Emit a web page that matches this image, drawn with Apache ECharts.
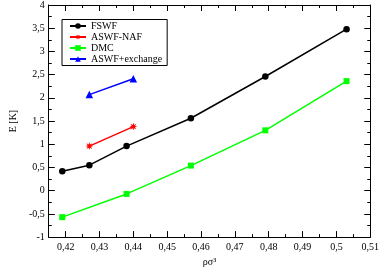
<!DOCTYPE html>
<html>
<head>
<meta charset="utf-8">
<script src="https://cdn.jsdelivr.net/npm/echarts@6/dist/echarts.min.js"></script>
<style>html,body{margin:0;padding:0;background:#fff;}#c{width:382px;height:272px;}</style>
</head>
<body>
<div id="c"></div>
<script>
// Data
var fswfX = [0.419, 0.427, 0.438, 0.457, 0.479, 0.503];
var fswfY = [0.42, 0.55, 0.96, 1.56, 2.46, 3.48];
var nafX = [0.427, 0.440];
var nafY = [0.96, 1.38];
var dmcX = [0.419, 0.438, 0.457, 0.479, 0.503];
var dmcY = [-0.57, -0.07, 0.54, 1.30, 2.36];
var exX = [0.427, 0.440];
var exY = [2.07, 2.41];
var xMajorTicks = [0.42, 0.43, 0.44, 0.45, 0.46, 0.47, 0.48, 0.49, 0.5, 0.51];
var seriesNames = ['FSWF', 'ASWF-NAF', 'DMC', 'ASWF+exchange'];

function pairs(xs, ys) { return xs.map(function (x, i) { return [x, ys[i]]; }); }
function comma(v) { return String(v).replace('.', ','); }
function isMajorX(v) { return Math.abs(v * 100 - Math.round(v * 100)) < 1e-6; }

var FONT = 'Liberation Serif';
var starPath = 'path://M20,10L14.16,11.72L17.07,17.07L11.72,14.16L10,20L8.28,14.16L2.93,17.07L5.84,11.72L0,10L5.84,8.28L2.93,2.93L8.28,5.84L10,0L11.72,5.84L17.07,2.93L14.16,8.28Z';

var axisLine = { show: true, onZero: false, lineStyle: { color: '#000', width: 1 } };
var hiddenLine = { show: false, onZero: false };
var xBase = { type: 'value', min: 0.415, max: 0.51, interval: 0.005, splitLine: { show: false } };

function xAxis(pos, major, labels) {
  var a = Object.assign({}, xBase, {
    position: pos,
    axisLine: major ? hiddenLine : axisLine,
    axisTick: major ? { show: true, inside: true, length: 6, customValues: xMajorTicks, lineStyle: { color: '#000' } }
                    : { show: true, inside: true, length: 3, lineStyle: { color: '#000' } },
    axisLabel: labels ? {
      show: true, margin: 5, fontFamily: FONT, fontSize: 10, color: '#000',
      formatter: function (v) { return isMajorX(v) ? comma(+v.toFixed(2)) : ''; }
    } : { show: false }
  });
  if (labels) {
    a.name = 'ρσ³';
    a.nameLocation = 'middle';
    a.nameGap = 19;
    a.nameTextStyle = { fontFamily: FONT, fontSize: 10, color: '#000' };
  }
  return a;
}

function yAxis(pos, labels) {
  var a = {
    type: 'value', position: pos, min: -1, max: 4, interval: 0.5,
    splitLine: { show: false },
    axisLine: axisLine,
    axisTick: { show: true, inside: true, length: 6, lineStyle: { color: '#000' } },
    minorTick: { show: true, splitNumber: 2, length: 3, lineStyle: { color: '#000' } },
    axisLabel: labels ? { show: true, margin: 4, fontFamily: FONT, fontSize: 10, color: '#000', formatter: comma } : { show: false }
  };
  if (labels) {
    a.name = 'E [K]';
    a.nameLocation = 'middle';
    a.nameGap = 17;
    a.nameTextStyle = { fontFamily: FONT, fontSize: 10, color: '#000' };
  }
  return a;
}

function line(name, xs, ys, color, symbol, size) {
  return {
    name: name, type: 'line', data: pairs(xs, ys), xAxisIndex: 0, yAxisIndex: 0,
    symbol: symbol, symbolSize: size, showSymbol: true,
    lineStyle: { color: color, width: 1.5 }, itemStyle: { color: color },
    animation: false
  };
}

var chart = echarts.init(document.getElementById('c'), null, { renderer: 'canvas' });
chart.setOption({
  animation: false,
  backgroundColor: '#fff',
  grid: { left: 30.3, right: 9, top: 4, bottom: 29, containLabel: false },
  legend: {
    orient: 'vertical', left: 62, top: 19.5,
    data: seriesNames,
    itemWidth: 16, itemHeight: 7, itemGap: 0,
    padding: [1, 5, 1, 7],
    borderColor: '#000', borderWidth: 1, borderRadius: 0,
    textStyle: { fontFamily: FONT, fontSize: 10, color: '#000', lineHeight: 11 }
  },
  xAxis: [xAxis('bottom', false, true), xAxis('bottom', true, false), xAxis('top', false, false), xAxis('top', true, false)],
  yAxis: [yAxis('left', true), yAxis('right', false)],
  series: [
    line(seriesNames[0], fswfX, fswfY, '#000000', 'circle', 6.5),
    line(seriesNames[1], nafX, nafY, '#ff0000', starPath, 8),
    line(seriesNames[2], dmcX, dmcY, '#00ff00', 'rect', 6),
    line(seriesNames[3], exX, exY, '#0000ff', 'triangle', 7.5)
  ]
});
</script>
</body>
</html>
